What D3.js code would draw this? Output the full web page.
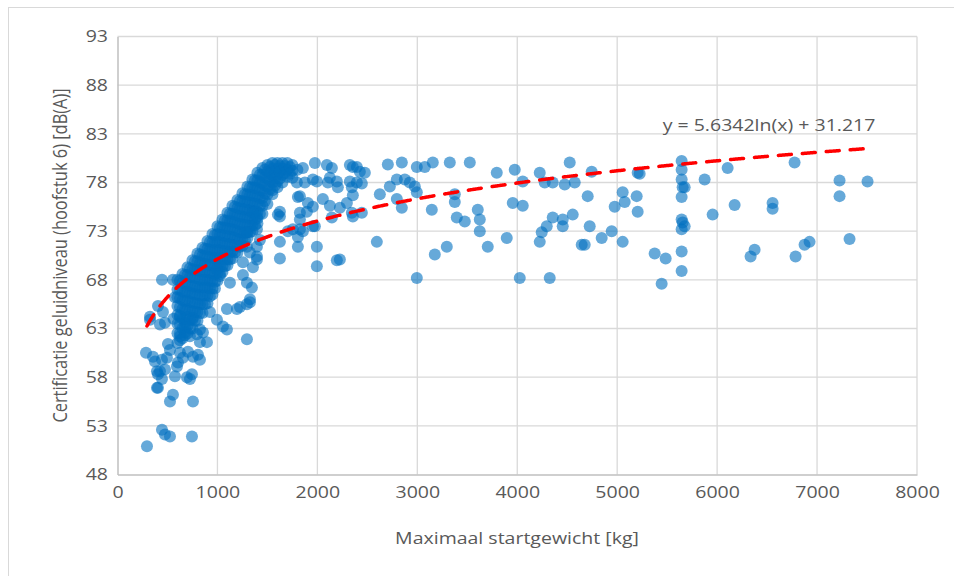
<!DOCTYPE html>
<html>
<head>
<meta charset="utf-8">
<script src="https://cdn.jsdelivr.net/npm/d3@7"></script>
<style>
  html, body { margin: 0; padding: 0; background: #fff; }
  text { font-family: "Open Sans", "Noto Sans", sans-serif; fill: #595959; }
</style>
</head>
<body>
<svg id="chart" width="954" height="576"></svg>
<script>
// ---- Data ----
const xTicks = [0, 1000, 2000, 3000, 4000, 5000, 6000, 7000, 8000];
const yTicks = [48, 53, 58, 63, 68, 73, 78, 83, 88, 93];
const xTitle = "Maximaal startgewicht [kg]";
const yTitle = "Certificatie geluidniveau (hoofstuk 6) [dB(A)]";
const trendLabel = "y = 5.6342ln(x) + 31.217";
const trendA = 5.6342, trendB = 31.217;
const trendRange = [295, 7505];

// light aircraft below the main band
const lowPoints = [
  [285,60.5],[295,50.9],[325,64.2],[325,63.9],[355,60.1],[375,59.6],[395,58.6],[395,56.9],[405,56.9],[405,65.3],
  [405,58.3],[425,63.4],[425,58.6],[445,68.0],[445,59.8],[445,57.8],[445,52.6],[455,64.7],[475,63.6],[475,58.8],
  [475,52.1],[495,60.0],[505,61.4],[525,60.8],[525,55.5],[525,51.9],[555,56.2],[575,58.1],[595,59.1],[605,59.5],
  [625,62.2],[625,60.5],[625,64.2],[655,60.0],[675,62.6],[675,63.6],[695,58.0],[705,60.6],[725,62.2],[725,57.8],
  [745,58.3],[745,51.9],[755,60.1],[755,55.5],[755,64.1],[795,62.4],[805,60.3],[825,61.6],[825,59.8],[825,62.9],
  [855,62.6],[895,61.6],[925,64.7],[995,63.9],[1055,63.2],[1095,62.9],[1225,65.2],[1325,65.7],[1295,61.9],[1095,65.0],
  [1195,65.0],[1295,65.5],[555,68.0],[575,66.2],[560,64.0]
];

// main dense band (weight, level)
const bandPoints = [
  [600,68.0],[600,67.0],[600,66.2],[600,65.3],[600,64.4],[600,63.5],[600,62.5],[600,61.5],
  [650,68.6],[650,67.7],[650,66.8],[650,65.9],[650,65.0],[650,64.0],[650,63.0],[650,62.0],
  [700,69.3],[700,68.5],[700,67.6],[700,66.8],[700,65.9],[700,65.0],[700,64.2],[700,63.3],[700,62.5],
  [750,70.0],[750,69.1],[750,68.3],[750,67.4],[750,66.6],[750,65.7],[750,64.8],[750,63.9],[750,63.0],
  [800,70.7],[800,69.9],[800,69.0],[800,68.2],[800,67.3],[800,66.5],[800,65.6],[800,64.7],[800,63.8],
  [850,71.3],[850,70.5],[850,69.7],[850,68.9],[850,68.0],[850,67.2],[850,66.4],[850,65.5],[850,64.6],
  [900,72.0],[900,71.2],[900,70.4],[900,69.6],[900,68.8],[900,68.0],[900,67.2],[900,66.4],[900,65.6],
  [950,72.7],[950,71.9],[950,71.1],[950,70.3],[950,69.5],[950,68.7],[950,67.9],[950,67.1],[950,66.5],
  [1000,73.5],[1000,72.7],[1000,71.9],[1000,71.1],[1000,70.3],[1000,69.5],[1000,68.7],[1000,67.9],
  [1050,74.2],[1050,73.4],[1050,72.6],[1050,71.8],[1050,71.0],[1050,70.2],[1050,69.4],[1050,68.8],
  [1100,74.9],[1100,74.1],[1100,73.3],[1100,72.5],[1100,71.7],[1100,70.9],[1100,70.1],[1100,69.5],
  [1150,75.6],[1150,74.8],[1150,74.0],[1150,73.2],[1150,72.4],[1150,71.6],[1150,70.9],[1150,70.2],
  [1200,76.2],[1200,75.4],[1200,74.6],[1200,73.8],[1200,73.0],[1200,72.2],[1200,71.5],[1200,70.8],
  [1250,76.9],[1250,76.1],[1250,75.3],[1250,74.5],[1250,73.7],[1250,72.9],[1250,72.2],[1250,71.5],
  [1300,77.6],[1300,76.8],[1300,76.0],[1300,75.2],[1300,74.4],[1300,73.6],[1300,72.9],[1300,72.3],
  [1350,78.3],[1350,77.5],[1350,76.7],[1350,75.9],[1350,75.1],[1350,74.3],[1350,73.6],[1350,73.0],
  [1400,79.0],[1400,78.2],[1400,77.4],[1400,76.6],[1400,75.8],[1400,75.0],[1400,74.3],[1400,73.8],
  [1450,79.5],[1450,78.8],[1450,78.0],[1450,77.2],[1450,76.4],[1450,75.6],[1450,74.8],
  [1500,79.8],[1500,79.1],[1500,78.4],[1500,77.6],[1500,76.8],[1500,75.8],
  [1550,80.0],[1550,79.4],[1550,78.7],[1550,78.0],[1550,77.2],[1550,76.8],
  [1600,80.0],[1600,79.4],[1600,78.8],[1600,78.1],[1600,77.5],
  [1650,80.0],[1650,79.4],[1650,78.8],[1650,78.0],
  [1700,80.0],[1700,79.3],[1700,78.6],
  [1750,79.8],[1750,79.2],[1750,78.5]
];

// in-between columns of the dense band
const bandPointsB = [
  [625,67.9],[625,67.0],[625,66.1],[625,65.2],[625,64.3],[625,63.4],[625,62.5],[625,61.8],
  [675,68.5],[675,67.6],[675,66.7],[675,65.8],[675,64.9],[675,64.0],[675,63.1],[675,62.3],
  [725,69.2],[725,68.3],[725,67.4],[725,66.6],[725,65.7],[725,64.8],[725,63.9],[725,63.0],
  [775,69.9],[775,69.0],[775,68.2],[775,67.3],[775,66.5],[775,65.6],[775,64.7],[775,63.8],
  [825,70.6],[825,69.7],[825,68.9],[825,68.0],[825,67.2],[825,66.4],[825,65.5],[825,64.6],
  [875,71.2],[875,70.4],[875,69.6],[875,68.8],[875,68.0],[875,67.2],[875,66.4],[875,65.5],
  [925,71.9],[925,71.1],[925,70.3],[925,69.5],[925,68.7],[925,67.9],[925,67.1],[925,66.3],
  [975,72.6],[975,71.8],[975,71.0],[975,70.2],[975,69.4],[975,68.6],[975,67.8],[975,67.1],
  [1025,73.4],[1025,72.6],[1025,71.8],[1025,71.0],[1025,70.2],[1025,69.4],[1025,68.6],
  [1075,74.1],[1075,73.3],[1075,72.5],[1075,71.7],[1075,70.9],[1075,70.1],[1075,69.4],
  [1125,74.8],[1125,74.0],[1125,73.2],[1125,72.4],[1125,71.6],[1125,70.8],[1125,70.1],
  [1175,75.5],[1175,74.7],[1175,73.9],[1175,73.1],[1175,72.3],[1175,71.5],[1175,70.8],
  [1225,76.1],[1225,75.3],[1225,74.5],[1225,73.7],[1225,72.9],[1225,72.1],[1225,71.4],
  [1275,76.8],[1275,76.0],[1275,75.2],[1275,74.4],[1275,73.6],[1275,72.8],[1275,72.1],
  [1325,77.5],[1325,76.7],[1325,75.9],[1325,75.1],[1325,74.3],[1325,73.5],[1325,72.9],
  [1375,78.2],[1375,77.4],[1375,76.6],[1375,75.8],[1375,75.0],[1375,74.2],[1375,73.6],
  [1425,78.8],[1425,78.0],[1425,77.2],[1425,76.4],[1425,75.6],[1425,74.8],
  [1475,79.3],[1475,78.5],[1475,77.7],[1475,76.9],[1475,76.1],
  [1525,79.6],[1525,78.9],[1525,78.1],[1525,77.3],
  [1575,79.8],[1575,79.1],[1575,78.4],[1575,77.7],
  [1625,79.7],[1625,79.1],[1625,78.4],
  [1675,79.7],[1675,79.0],
  [1725,79.6],[1725,78.9]
];

// scattered points right of the band (1000-1500 kg)
const sidePoints = [
  [995,69.1],[1025,68.4],[1125,67.7],[1255,68.5],[1295,67.7],[1345,67.2],[1325,66.0],[1325,70.8],[1255,69.8],[1355,69.3],
  [1395,70.1],[1295,72.9],[1395,73.2],[1425,72.1],[1295,71.4],[1395,70.4],[1355,74.9],[1395,74.5],[1395,71.4]
];

// 1600-2500 kg
const midPoints = [
  [1625,70.2],[1625,71.9],[1625,74.5],[1605,74.7],[1625,75.0],[1705,73.0],[1755,73.2],[1855,73.0],[1805,71.4],[1805,72.4],
  [1825,73.2],[1955,73.5],[1975,73.5],[1825,74.2],[1825,74.9],[1895,75.0],[1955,75.5],[1805,76.5],[1825,76.6],[1905,75.9],
  [2055,76.3],[2125,75.6],[2225,75.4],[2295,75.9],[2345,74.9],[2145,74.4],[1995,71.4],[1995,69.4],[2195,70.0],[2225,70.1],
  [1795,78.0],[1875,78.0],[1995,78.1],[2105,78.0],[2205,77.5],[2325,78.1],[2395,78.0],[1955,78.3],[2125,78.5],[2195,78.1],
  [1855,79.5],[1975,80.0],[2095,79.8],[2145,79.5],[2325,79.8],[2395,79.6],[2425,79.1],[2475,79.0],[2355,79.6],[1800,79.3],
  [2345,77.5],[2355,76.7],[2355,74.5],[2445,74.9],[2445,77.9]
];

// heavier aircraft (> 2500 kg)
const heavyPoints = [
  [2595,71.9],[2625,76.8],[2705,79.85],[2725,77.6],[2795,78.3],[2875,78.3],[2925,78.0],[2975,77.6],[2995,77.0],[2795,76.3],
  [2845,75.4],[2845,80.05],[2995,79.6],[3075,79.6],[3155,80.05],[3325,80.05],[3525,80.05],[3145,75.2],[3375,76.8],[3375,76.0],
  [3395,74.4],[3475,74.0],[3605,75.2],[3625,74.2],[3625,73.0],[3705,71.4],[3795,79.0],[3895,72.3],[3955,75.9],[3975,79.3],
  [4055,75.6],[4055,78.1],[4225,79.0],[4245,72.9],[4225,71.9],[4275,78.0],[4295,73.5],[4355,78.0],[4355,74.4],[4455,74.2],
  [4455,73.5],[4475,77.8],[4525,80.05],[4555,74.7],[4575,78.0],[4645,71.6],[4675,71.6],[4705,76.6],[4725,73.5],[4745,79.1],
  [4845,72.3],[4945,73.0],[4975,75.5],[5055,71.9],[5055,77.0],[5075,76.0],[5195,76.6],[5205,79.0],[5205,75.0],[5225,78.9],
  [3175,70.6],[3295,71.4],[2995,68.2],[4025,68.2],[4325,68.2],[5375,70.7],[5485,70.2],[5445,67.6],[5645,80.2],[5645,79.3],
  [5645,78.3],[5655,77.5],[5675,77.5],[5645,76.5],[5645,74.2],[5655,73.9],[5645,73.2],[5675,73.5],[5645,70.9],[5645,68.9],
  [5875,78.3],[5955,74.7],[6105,79.5],[6175,75.7],[6335,70.4],[6375,71.1],[6555,75.9],[6555,75.3],[6775,80.05],[6785,70.4],
  [6875,71.6],[6925,71.9],[7225,78.2],[7225,76.6],[7325,72.2],[7505,78.1]
];

// ---- Drawing ----
const W = 954, H = 576;
const SX = 1.19;       // horizontal stretch of the text in the reference
const FS = "16.4px";
const svg = d3.select("#chart");
svg.append("rect").attr("x", 0).attr("y", 0).attr("width", W).attr("height", H).attr("fill", "#fff");
svg.append("rect").attr("x", 8.5).attr("y", 7.5).attr("width", W + 20).attr("height", H + 20)
  .attr("fill", "none").attr("stroke", "#d9d9d9").attr("stroke-width", 1);

const x = d3.scaleLinear().domain([0, 8000]).range([117.5, 917]);
const y = d3.scaleLinear().domain([48, 93]).range([474.5, 36.5]);

// gridlines
const grid = svg.append("g");
grid.selectAll(".vg").data(xTicks.slice(1)).join("line")
  .attr("x1", d => x(d)).attr("x2", d => x(d)).attr("y1", y(93)).attr("y2", y(48))
  .attr("stroke", "#d9d9d9").attr("stroke-width", 1.3);
grid.selectAll(".hg").data(yTicks.slice(1)).join("line")
  .attr("x1", x(0)).attr("x2", x(8000)).attr("y1", d => y(d)).attr("y2", d => y(d))
  .attr("stroke", "#d9d9d9").attr("stroke-width", 1.3);

// axes
const xAxis = d3.axisBottom(x).tickValues(xTicks).tickSize(0).tickPadding(12).tickFormat(d3.format("d"));
const yAxis = d3.axisLeft(y).tickValues(yTicks).tickSize(0).tickPadding(9.5).tickFormat(d3.format("d"));
const gx = svg.append("g").attr("transform", `translate(0,${y(48)})`).call(xAxis);
const gy = svg.append("g").attr("transform", `translate(${x(0)},0)`).call(yAxis);
[gx, gy].forEach(g => {
  g.select(".domain").attr("stroke", "#bfbfbf").attr("stroke-width", 1.5);
  g.selectAll("text").style("font-size", FS).attr("fill", "#595959")
    .style("font-family", "'Open Sans', sans-serif");
});
gx.selectAll("text").attr("transform", `scale(${SX},1)`);
gy.selectAll("text").attr("x", -9.5 / SX).attr("transform", `scale(${SX},1)`);

// points
const allPoints = [].concat(lowPoints, bandPoints, bandPointsB, sidePoints, midPoints, heavyPoints);
svg.append("g").selectAll("circle").data(allPoints).join("circle")
  .attr("cx", d => x(d[0])).attr("cy", d => y(d[1])).attr("r", 6)
  .attr("fill", "#0070C0").attr("fill-opacity", 0.6);

// logarithmic trendline (from the equation shown on the chart)
const trendXs = d3.range(trendRange[0], trendRange[1] + 1, 10);
const line = d3.line().x(d => x(d)).y(d => y(trendA * Math.log(d) + trendB));
svg.append("path").datum(trendXs).attr("d", line)
  .attr("fill", "none").attr("stroke", "#FF0000").attr("stroke-width", 3.5)
  .attr("stroke-dasharray", "13,11").attr("stroke-linecap", "round");

svg.append("text").attr("transform", `translate(769,131) scale(${SX},1)`).attr("text-anchor", "middle")
  .style("font-size", FS).text(trendLabel);

// axis titles
svg.append("text").attr("transform", `translate(517,544) scale(${SX},1)`).attr("text-anchor", "middle")
  .style("font-size", FS).text(xTitle);
svg.append("text").attr("transform", `translate(67,${(36.5 + 474.5) / 2}) scale(${SX},1) rotate(-90)`)
  .attr("text-anchor", "middle").style("font-size", FS).text(yTitle);
</script>
</body>
</html>
